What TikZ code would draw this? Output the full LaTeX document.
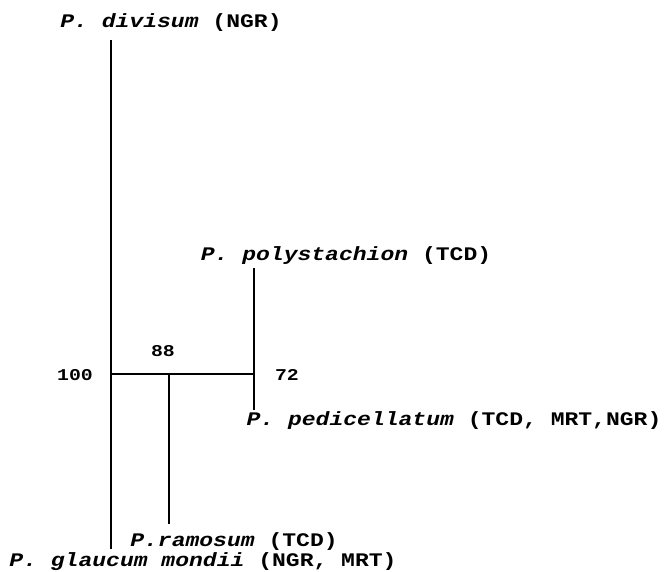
\documentclass[tikz,border=0pt]{standalone}
\usepackage{fontspec}
\setmonofont[FakeStretch=1.2]{Liberation Mono}
\begin{document}
\begin{tikzpicture}[x=1pt,y=-1pt,
  taxon/.style={font=\ttfamily\bfseries\fontsize{19.2}{22}\selectfont, inner sep=0pt, anchor=base},
  support/.style={font=\ttfamily\bfseries\fontsize{16.5}{20}\selectfont, inner sep=0pt, anchor=base},
  branch/.style={line width=1.8pt}]
\useasboundingbox (0,0) rectangle (665,572);

% taxa labels (placed by their baselines)
\node[taxon] (div) at (171,28) {\textit{P. divisum} (NGR)};
\node[taxon] (poly) at (346,261) {\textit{P. polystachion} (TCD)};
\node[taxon] (ped) at (454,426) {\textit{P. pedicellatum} (TCD, MRT,NGR)};
\node[taxon] (ram) at (234,546) {\textit{P.ramosum} (TCD)};
\node[taxon] (gla) at (203,566) {\textit{P. glaucum mondii} (NGR, MRT)};

% bootstrap values
\node[support] (b100) at (75,381) {100};
\node[support] (b88) at (163,357) {88};
\node[support] (b72) at (287,381) {72};

% branch points
\coordinate (topA) at (111,40);
\coordinate (botA) at (111,549);
\coordinate (nodeA) at (111,374);
\coordinate (nodeC) at (254,374);
\coordinate (topC) at (254,268);
\coordinate (botC) at (254,410);
\coordinate (nodeB) at (169,374);
\coordinate (botB) at (169,524);

\draw[branch] (topA) -- (botA);
\draw[branch] (nodeA) -- (nodeC);
\draw[branch] (topC) -- (botC);
\draw[branch] (nodeB) -- (botB);
\end{tikzpicture}
\end{document}
